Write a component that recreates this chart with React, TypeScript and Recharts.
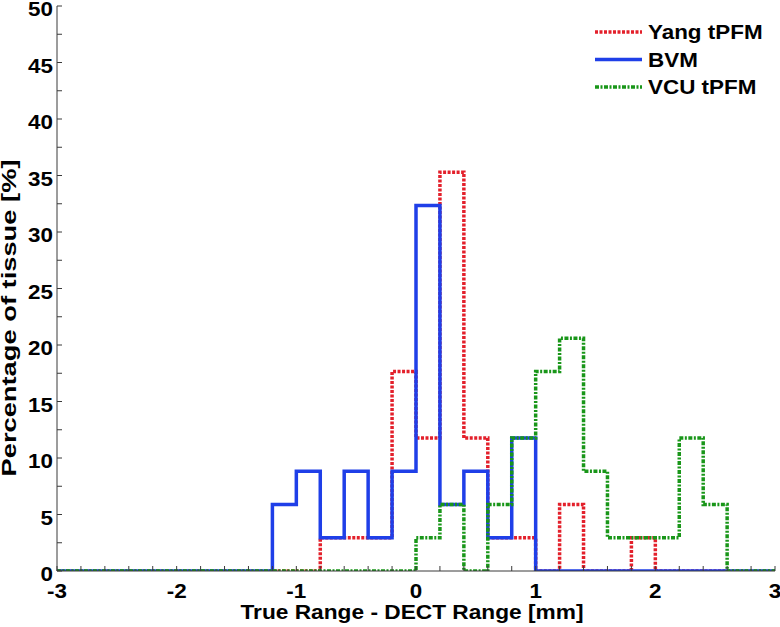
import React from 'react';
import { ComposedChart, Line, XAxis, YAxis, Legend } from 'recharts';

// bin edges of the histograms (0.2 mm bins), last edge closes the stairs
const binEdges = [
  -3, -2.8, -2.6, -2.4, -2.2, -2, -1.8, -1.6, -1.4, -1.2, -1, -0.8, -0.6, -0.4, -0.2,
  0, 0.2, 0.4, 0.6, 0.8, 1, 1.2, 1.4, 1.6, 1.8, 2, 2.2, 2.4, 2.6, 2.8, 3,
];

// percentage of tissue per bin
const yangTPFM = [
  0, 0, 0, 0, 0, 0, 0, 0, 0, 0, 0, 2.94, 2.94, 2.94, 17.65,
  11.76, 35.29, 11.76, 2.94, 2.94, 0, 5.88, 0, 0, 2.94, 0, 0, 0, 0, 0, 0,
];
const bvm = [
  0, 0, 0, 0, 0, 0, 0, 0, 0, 5.88, 8.82, 2.94, 8.82, 2.94, 8.82,
  32.35, 5.88, 8.82, 2.94, 11.76, 0, 0, 0, 0, 0, 0, 0, 0, 0, 0, 0,
];
const vcuTPFM = [
  0, 0, 0, 0, 0, 0, 0, 0, 0, 0, 0, 0, 0, 0, 0,
  2.94, 5.88, 0, 5.88, 11.76, 17.65, 20.59, 8.82, 2.94, 2.94, 2.94, 11.76, 5.88, 0, 0, 0,
];

const seriesNames = ['Yang tPFM', 'BVM', 'VCU tPFM'];

const xTicks = [
  -3, -2.8, -2.6, -2.4, -2.2, -2, -1.8, -1.6, -1.4, -1.2, -1, -0.8, -0.6, -0.4, -0.2,
  0, 0.2, 0.4, 0.6, 0.8, 1, 1.2, 1.4, 1.6, 1.8, 2, 2.2, 2.4, 2.6, 2.8, 3,
];
const yTicks = [0, 2.5, 5, 7.5, 10, 12.5, 15, 17.5, 20, 22.5, 25, 27.5, 30, 32.5, 35, 37.5, 40, 42.5, 45, 47.5, 50];

const data = binEdges.map((x, i) => ({ x, yang: yangTPFM[i], bvm: bvm[i], vcu: vcuTPFM[i] }));

const FONT = '"Liberation Sans", Arial, sans-serif';
const AXIS = '#3a3a3a';
const TICK_LEN = 5;
const FS = 19.5;
const STRETCH = 1.15;

const isInt = (v: number) => Math.abs(v - Math.round(v)) < 1e-6;
const isFive = (v: number) => Math.abs(v / 5 - Math.round(v / 5)) < 1e-6;

const BottomTick = ({ x, y, payload }: any) => (
  <g>
    <line x1={x} x2={x} y1={y} y2={y - TICK_LEN} stroke={AXIS} strokeWidth={1} />
    {isInt(payload.value) && (
      <text
        transform={`translate(${x},${y + 27}) scale(${STRETCH},1)`}
        textAnchor="middle"
        fontFamily={FONT}
        fontWeight="bold"
        fontSize={FS}
        fill="#000"
      >
        {String(Math.round(payload.value))}
      </text>
    )}
  </g>
);

const TopTick = ({ x, y }: any) => (
  <line x1={x} x2={x} y1={y} y2={y + TICK_LEN} stroke={AXIS} strokeWidth={1} />
);

const LeftTick = ({ x, y, payload }: any) => (
  <g>
    <line x1={x} x2={x + TICK_LEN} y1={y} y2={y} stroke={AXIS} strokeWidth={1} />
    {isFive(payload.value) && (
      <text
        transform={`translate(${x - 4},${y + 10}) scale(${STRETCH},1)`}
        textAnchor="end"
        fontFamily={FONT}
        fontWeight="bold"
        fontSize={FS}
        fill="#000"
      >
        {String(payload.value)}
      </text>
    )}
  </g>
);

const RightTick = ({ x, y }: any) => (
  <line x1={x} x2={x - TICK_LEN} y1={y} y2={y} stroke={AXIS} strokeWidth={1} />
);

const XLabel = () => (
  <text
    x={412}
    y={619}
    textAnchor="middle"
    fontFamily={FONT}
    fontWeight="bold"
    fontSize={FS}
    textLength={343}
    lengthAdjust="spacingAndGlyphs"
    fill="#000"
  >
    True Range - DECT Range [mm]
  </text>
);

const YLabel = () => (
  <text
    transform="translate(16,318) rotate(-90)"
    textAnchor="middle"
    fontFamily={FONT}
    fontWeight="bold"
    fontSize={FS}
    textLength={317}
    lengthAdjust="spacingAndGlyphs"
    fill="#000"
  >
    Percentage of tissue [%]
  </text>
);

const LegendBox = ({ payload }: any) => {
  const items = [...(payload || [])].sort(
    (a: any, b: any) => seriesNames.indexOf(a.value) - seriesNames.indexOf(b.value),
  );
  return (
    <svg width={185} height={90} style={{ display: 'block' }}>
      {items.map((entry: any, i: number) => {
        const cy = 14 + i * 27.5;
        return (
          <g key={entry.value}>
            <line
              x1={0}
              x2={47}
              y1={cy}
              y2={cy}
              stroke={entry.color}
              strokeWidth={3.5}
              strokeDasharray={entry.payload?.strokeDasharray}
            />
            <text
              transform={`translate(53,${cy + 7}) scale(${STRETCH},1)`}
              fontFamily={FONT}
              fontWeight="bold"
              fontSize={FS}
              fill="#000"
            >
              {entry.value}
            </text>
          </g>
        );
      })}
    </svg>
  );
};

export default function App() {
  return (
    <div style={{ position: 'absolute', left: 0, top: 0, width: 780, height: 627, background: '#fff' }}>
      <ComposedChart width={780} height={627} data={data} margin={{ top: 6, right: 5, bottom: 0, left: 0 }}>
        <XAxis
          dataKey="x"
          type="number"
          domain={[-3, 3]}
          ticks={xTicks}
          interval={0}
          height={56}
          tickLine={false}
          tickSize={0}
          tickMargin={0}
          axisLine={{ stroke: AXIS, strokeWidth: 1 }}
          tick={<BottomTick />}
          label={<XLabel />}
          allowDataOverflow
        />
        <XAxis
          xAxisId="top"
          orientation="top"
          type="number"
          domain={[-3, 3]}
          ticks={xTicks}
          interval={0}
          height={0}
          tickLine={false}
          tickSize={0}
          tickMargin={0}
          axisLine={{ stroke: AXIS, strokeWidth: 1 }}
          tick={<TopTick />}
        />
        <YAxis
          type="number"
          domain={[0, 50]}
          ticks={yTicks}
          interval={0}
          width={57}
          tickLine={false}
          tickSize={0}
          tickMargin={0}
          axisLine={{ stroke: AXIS, strokeWidth: 1 }}
          tick={<LeftTick />}
          label={<YLabel />}
          allowDataOverflow
        />
        <YAxis
          yAxisId="right"
          orientation="right"
          type="number"
          domain={[0, 50]}
          ticks={yTicks}
          interval={0}
          width={0}
          tickLine={false}
          tickSize={0}
          tickMargin={0}
          axisLine={{ stroke: AXIS, strokeWidth: 1 }}
          tick={<RightTick />}
        />
        <Legend
          layout="horizontal"
          align="center"
          verticalAlign="middle"
          itemSorter={null}
          wrapperStyle={{ position: 'absolute', left: 595, top: 18, width: 185, height: 90 }}
          content={<LegendBox />}
        />
        <Line
          name="Yang tPFM"
          dataKey="yang"
          type="stepAfter"
          stroke="#e3202b"
          strokeWidth={3.5}
          strokeDasharray="3 1.5"
          dot={false}
          activeDot={false}
          isAnimationActive={false}
        />
        <Line
          name="BVM"
          dataKey="bvm"
          type="stepAfter"
          stroke="#1f3fe8"
          strokeWidth={3.5}
          dot={false}
          activeDot={false}
          isAnimationActive={false}
        />
        <Line
          name="VCU tPFM"
          dataKey="vcu"
          type="stepAfter"
          stroke="#199619"
          strokeWidth={3.5}
          strokeDasharray="4 1.5 2 1.5"
          dot={false}
          activeDot={false}
          isAnimationActive={false}
        />
      </ComposedChart>
    </div>
  );
}
